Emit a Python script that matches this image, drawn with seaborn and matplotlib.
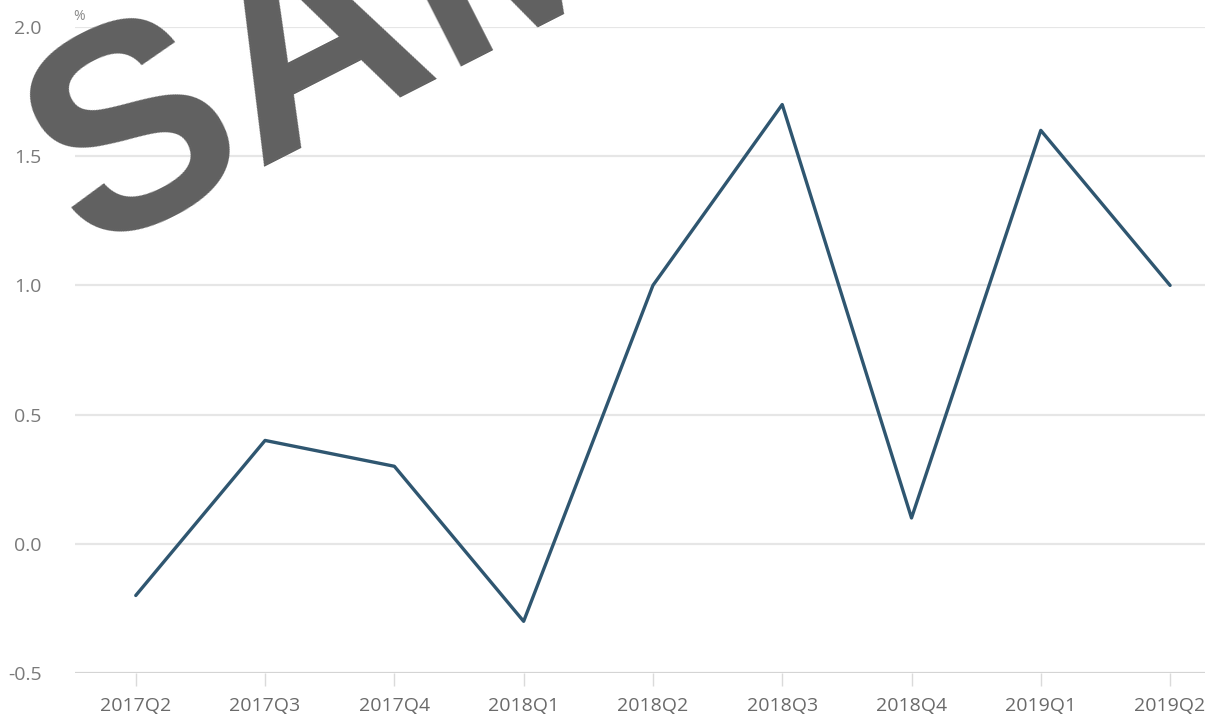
import matplotlib
matplotlib.use("Agg")
import matplotlib.pyplot as plt
import seaborn as sns
import pandas as pd

quarters = ["2017Q2", "2017Q3", "2017Q4", "2018Q1", "2018Q2", "2018Q3", "2018Q4", "2019Q1", "2019Q2"]
values = [-0.2, 0.4, 0.3, -0.3, 1.0, 1.7, 0.1, 1.6, 1.0]
yticks = [-0.5, 0.0, 0.5, 1.0, 1.5, 2.0]
ytick_labels = ["-0.5", "0.0", "0.5", "1.0", "1.5", "2.0"]
unit_label = "%"
watermark = "SAMPLE"

df = pd.DataFrame({"quarter": quarters, "value": values})
df["pos"] = range(len(quarters))

sns.set_theme(style="white")
plt.rcParams["font.family"] = ["Open Sans", "DejaVu Sans"]

fig = plt.figure(figsize=(12.15, 7.17), dpi=100)
ax = fig.add_axes([75 / 1215, 1 - 673 / 717, (1205 - 75) / 1215, (673 - 27) / 717])

sns.lineplot(data=df, x="pos", y="value", ax=ax, color="#2f5670", linewidth=2.4)

ax.set_xlim(-0.47, 8.27)
ax.set_ylim(-0.5, 2.0)
ax.set_yticks(yticks)
ax.set_yticklabels(ytick_labels)
ax.set_xticks(df["pos"])
ax.set_xticklabels(quarters)
ax.set_xlabel("")
ax.set_ylabel("")

for y in yticks:
    ax.axhline(y, color="#e6e6e6" if y != -0.5 else "#d4d4d4", linewidth=1.6, zorder=0)

for s in ax.spines.values():
    s.set_visible(False)

ax.tick_params(axis="x", length=9, width=1, color="#dadada", pad=8,
               labelsize=14, labelcolor="#6a6a6a", direction="out", bottom=True)
ax.tick_params(axis="y", length=0, labelsize=14, labelcolor="#7a7a7a", pad=24)
for lbl in ax.get_yticklabels():
    lbl.set_horizontalalignment("right")

fig.text(86 / 1215, 1 - 253 / 717, watermark, rotation=27, rotation_mode="anchor",
         ha="left", va="baseline", fontsize=208, fontweight="bold", family="Liberation Sans",
         color="#606060", zorder=10)

fig.text(73 / 1215, 1 - 16 / 717, unit_label, fontsize=10, color="#8a8a8a", va="center", ha="left",
         zorder=11)

fig.savefig("out.png", dpi=100)
